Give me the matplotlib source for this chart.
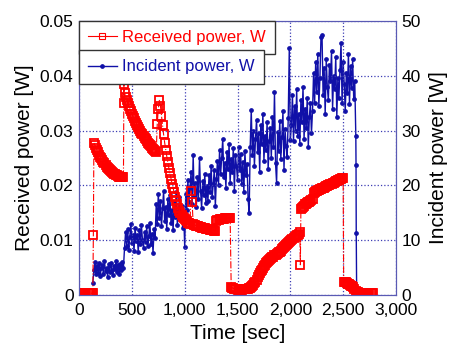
import numpy as np
import matplotlib.pyplot as plt
from matplotlib.lines import Line2D

plt.rcParams['font.family'] = ['Liberation Sans', 'DejaVu Sans']

# Received power [W], one list per segment (start, end time)
rec_0 = [0.0003] * 14                                   # 0 .. 130 s
rec_1 = [0.011]                                         # 135 s
rec_2 = [0.0278, 0.0273, 0.0268, 0.0264, 0.0260, 0.0256, 0.0252, 0.0249, 0.0246, 0.0243,
         0.0240, 0.0237, 0.0234, 0.0232, 0.0230, 0.0228, 0.0226, 0.0224, 0.0223, 0.0221,
         0.0220, 0.0219, 0.0218, 0.0217, 0.0216, 0.0216, 0.0215, 0.0215, 0.0215]   # 140 .. 420
rec_3 = [0.0385, 0.0350]                                # 424 .. 428
rec_4 = [0.0368, 0.0362, 0.0356, 0.0350, 0.0345, 0.0340, 0.0335, 0.0330, 0.0326, 0.0322,
         0.0318, 0.0314, 0.0310, 0.0306, 0.0302, 0.0299, 0.0296, 0.0293, 0.0290, 0.0287,
         0.0284, 0.0281, 0.0278, 0.0276, 0.0273, 0.0271, 0.0268, 0.0266, 0.0264, 0.0262,
         0.0260]                                        # 430 .. 730
rec_5 = [0.0312, 0.0340, 0.0355, 0.0345, 0.0327, 0.0310, 0.0293, 0.0278, 0.0265, 0.0253,
         0.0242, 0.0231, 0.0222, 0.0212, 0.0203, 0.0195, 0.0187, 0.0179, 0.0172, 0.0165,
         0.0159, 0.0154, 0.0150, 0.0146, 0.0143, 0.0140, 0.0138, 0.0136, 0.0134, 0.0132,
         0.0131, 0.0130, 0.0190, 0.0170, 0.0129, 0.0128, 0.0127, 0.0126, 0.0126, 0.0125,
         0.0124, 0.0124, 0.0123, 0.0123, 0.0122, 0.0122, 0.0121, 0.0121, 0.0120, 0.0120,
         0.0119, 0.0119, 0.0118, 0.0118, 0.0117, 0.0117]  # 740 .. 1290
rec_6 = [0.0134, 0.0136, 0.0137, 0.0138, 0.0138, 0.0139, 0.0139, 0.0139, 0.0140, 0.0140,
         0.0140, 0.0140, 0.0141, 0.0141]                # 1300 .. 1430
rec_7 = [0.0015, 0.0013, 0.0012, 0.0011, 0.0010, 0.0010, 0.0009, 0.0009, 0.0009, 0.0009,
         0.0009, 0.0010, 0.0010, 0.0010, 0.0010, 0.0011, 0.0011, 0.0012, 0.0013, 0.0014,
         0.0016, 0.0018, 0.0021, 0.0024, 0.0028, 0.0032, 0.0036, 0.0040, 0.0043, 0.0046,
         0.0049, 0.0052, 0.0055, 0.0058, 0.0060, 0.0062, 0.0064, 0.0066, 0.0067, 0.0069,
         0.0070, 0.0072, 0.0073, 0.0075, 0.0076, 0.0078, 0.0079, 0.0081, 0.0083, 0.0085,
         0.0087, 0.0089, 0.0091, 0.0093, 0.0095, 0.0097, 0.0099, 0.0100, 0.0102, 0.0104,
         0.0105, 0.0107, 0.0109, 0.0110, 0.0112, 0.0114]  # 1440 .. 2090
rec_8 = [0.0055]                                        # 2095
rec_9 = [0.0157, 0.0159, 0.0161, 0.0163, 0.0165, 0.0166, 0.0168, 0.0169, 0.0170, 0.0172,
         0.0173, 0.0175, 0.0186, 0.0188, 0.0189, 0.0190, 0.0191, 0.0192, 0.0193, 0.0194,
         0.0195, 0.0195, 0.0196, 0.0197, 0.0198, 0.0199, 0.0200, 0.0201, 0.0202, 0.0203,
         0.0204, 0.0205, 0.0206, 0.0207, 0.0208, 0.0209, 0.0210, 0.0211, 0.0212, 0.0213,
         0.0214]                                        # 2100 .. 2500
rec_10 = [0.0024, 0.0024, 0.0023, 0.0022, 0.0020, 0.0019, 0.0018, 0.0017, 0.0016, 0.0014,
          0.0011, 0.0008, 0.0006, 0.0005, 0.0004, 0.0004, 0.0003, 0.0003, 0.0003, 0.0003,
          0.0003, 0.0003, 0.0003, 0.0003, 0.0003, 0.0003, 0.0003, 0.0003]  # 2505 .. 2780
rec_spans = [(0, 130), (135, 135), (140, 420), (424, 428), (430, 730), (740, 1290),
             (1300, 1430), (1440, 2090), (2095, 2095), (2100, 2500), (2505, 2780)]

# Incident power [W]
inc_main = [2.2,
            4.5, 6.0, 3.8, 5.2, 4.0, 5.8, 3.5, 4.9, 5.5, 3.9, 6.1, 4.4, 5.0, 3.3, 5.6, 4.2, 5.9,
            4.6, 3.6, 5.3, 4.8, 6.2, 4.1, 5.4, 3.9, 5.7, 4.5, 6.0, 5.0,
            8.5, 11.5, 9.0, 12.0, 8.2, 10.5, 13.0, 9.5, 11.0, 8.0, 12.3, 9.8, 10.9, 7.8, 11.8,
            9.2, 12.8, 10.0, 8.6, 11.4, 9.6, 12.5, 8.9, 10.7, 13.2, 9.3, 11.1, 7.7, 12.0, 10.4,
            16.5, 13.0, 18.5, 14.0, 17.2, 12.5, 15.8, 19.0, 13.5, 16.0, 12.0, 17.5, 14.5, 18.2,
            13.2, 15.5, 11.8, 16.8, 14.2, 18.8, 12.8, 15.2, 17.8, 13.8, 16.2, 12.2, 14.8, 8.8,
            18.5, 15.5, 21.0, 17.0, 19.5, 22.5, 16.5, 25.5, 18.0, 20.5, 16.0, 21.5, 17.5, 25.0,
            19.0, 15.8, 20.8, 18.2, 22.0, 16.8, 19.8, 17.2, 21.8, 18.8, 23.5, 17.8, 20.2, 22.8,
            16.2, 21.2,
            24.5, 20.0, 26.5, 22.0, 25.0, 28.5, 21.5, 24.0, 19.5, 26.0, 23.0, 27.5, 20.5, 24.8,
            22.5, 26.8, 19.0, 25.5, 23.5, 21.0, 27.0, 22.8, 25.8, 20.2, 24.2, 18.8, 26.2, 21.8,
            23.8, 17.5, 15.0,
            27.0, 33.8, 25.5, 30.0, 23.5, 28.5, 32.0, 26.0, 29.5, 22.5, 31.0, 27.5, 33.0, 24.5,
            29.0, 26.5, 31.5, 23.0, 28.0, 30.5, 25.0, 32.5, 27.0, 37.0, 24.0, 20.4, 29.8, 26.2,
            31.8, 24.8, 28.8, 33.5, 22.8, 30.2, 27.2, 25.2, 32.2, 45.0, 28.2,
            31.0, 36.5, 28.0, 34.5, 30.0, 37.5, 29.0, 33.0, 27.5, 35.5, 31.5, 38.0, 28.5, 34.0,
            30.5, 36.0, 27.0, 32.5, 35.0, 29.5, 33.5,
            40.5, 35.0, 42.5, 37.0, 44.0, 34.5, 39.5, 47.0, 47.5, 36.5, 41.5, 33.0, 43.0, 38.0,
            35.5, 42.0, 39.0, 44.5, 34.0, 40.0, 37.5, 43.5, 32.5, 39.5, 36.0, 41.0, 46.0, 35.0,
            42.5, 38.5, 33.5, 40.5, 36.8, 44.0, 34.8, 41.8, 37.8, 43.0, 35.8, 39.0]
inc_tail_t = [2620, 2622, 2624, 2628, 2660, 2700]
inc_tail = [29.0, 23.7, 11.3, 0.3, 0.0, 0.0]

rec_t = np.concatenate([np.linspace(a, b, len(v)) for (a, b), v in zip(rec_spans, [
    rec_0, rec_1, rec_2, rec_3, rec_4, rec_5, rec_6, rec_7, rec_8, rec_9, rec_10])])
rec_w = np.concatenate([rec_0, rec_1, rec_2, rec_3, rec_4, rec_5, rec_6, rec_7, rec_8, rec_9, rec_10])
inc_t = np.concatenate([np.linspace(130, 2610, len(inc_main)), inc_tail_t])
inc_w = np.concatenate([inc_main, inc_tail])

frame = '#5a5ab4'
blue = '#1010a8'
fig = plt.figure(figsize=(4.52, 3.49), dpi=100)
ax = fig.add_axes([0.175, 0.155, 0.701, 0.785])
ax2 = ax.twinx()

ax2.plot(inc_t, inc_w, '-', color=blue, lw=1.0, marker='o', ms=2.4, mec=blue, mfc=blue)
ax.plot(rec_t, rec_w, '-.', color='red', lw=0.8, marker='s', ms=5.2,
        mfc='none', mec='red', mew=1.3)
ax.set_zorder(ax2.get_zorder() + 1)
ax.patch.set_visible(False)

ax.set_xlim(0, 3000)
ax.set_ylim(0, 0.05)
ax2.set_ylim(0, 50)
ax.set_xticks([0, 500, 1000, 1500, 2000, 2500, 3000])
ax.set_xticklabels(['0', '500', '1,000', '1,500', '2,000', '2,500', '3,000'])
ax.set_yticks([0, 0.01, 0.02, 0.03, 0.04, 0.05])
ax.set_yticklabels(['0', '0.01', '0.02', '0.03', '0.04', '0.05'])
ax2.set_yticks([0, 10, 20, 30, 40, 50])

ax.grid(True, color='#3c3cb4', ls=':', lw=0.9)
for a in (ax, ax2):
    for s in a.spines.values():
        s.set_color(frame)
    a.tick_params(length=0, labelsize=12.5, pad=4)
ax.tick_params(axis='x', pad=6)

ax.set_xlabel('Time [sec]', fontsize=15, labelpad=4)
ax.set_ylabel('Received power [W]', fontsize=15, labelpad=4)
ax2.set_ylabel('Incident power [W]', fontsize=15, labelpad=6)

# two stacked, separately boxed legend entries
h1 = Line2D([], [], ls='-', color='red', lw=0.8, marker='s', ms=4.5, mfc='none', mew=0.8)
h2 = Line2D([], [], ls='-', color=blue, lw=1.0, marker='o', ms=2.4)
leg_kw = dict(loc='upper left', borderaxespad=0, fancybox=False, edgecolor='#333333',
              framealpha=1, fontsize=12, handlelength=1.7, handletextpad=0.35,
              borderpad=0.55)
leg1 = ax.legend([h1], ['Received power, W'], bbox_to_anchor=(0, 1), **leg_kw)
leg1.get_texts()[0].set_color('red')
ax.add_artist(leg1)
leg2 = ax.legend([h2], ['Incident power, W'], bbox_to_anchor=(0, 0.893), **leg_kw)
leg2.get_texts()[0].set_color(blue)

fig.savefig('out.png', dpi=100)
